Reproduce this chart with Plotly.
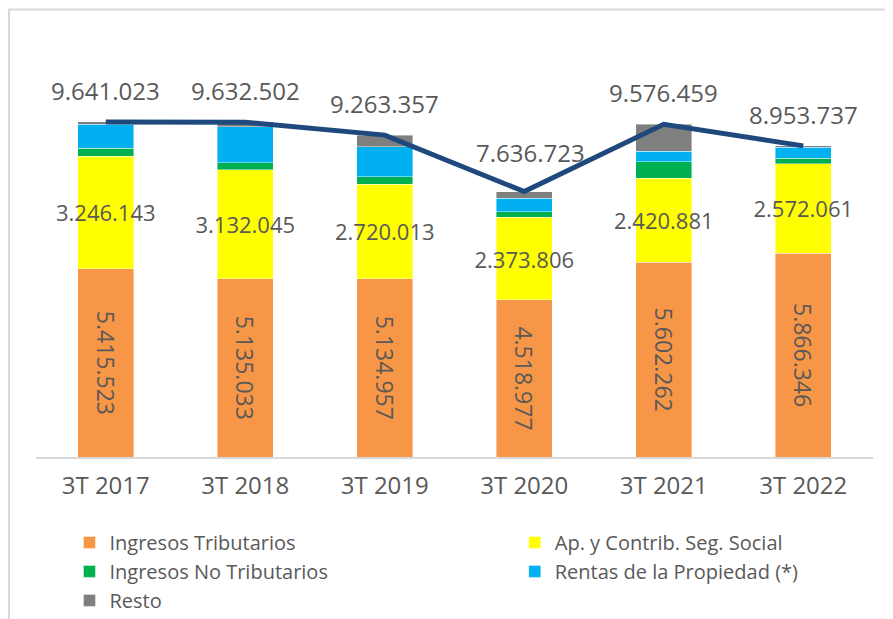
import plotly.graph_objects as go

categories = ["3T 2017", "3T 2018", "3T 2019", "3T 2020", "3T 2021", "3T 2022"]
ingresos_tributarios = [5415523, 5135033, 5134957, 4518977, 5602262, 5866346]
seg_social = [3246143, 3132045, 2720013, 2373806, 2420881, 2572061]
no_tributarios = [220000, 200000, 213000, 165000, 480000, 153000]
rentas_propiedad = [690000, 1040000, 865000, 385000, 300000, 317000]
resto = [69357, 125424, 330387, 193940, 773316, 45330]
totales = [9641023, 9632502, 9263357, 7636723, 9576459, 8953737]

FONT = "Open Sans"
TXT = "#595959"

fig = go.Figure()

def fmt(v):
    return f"{v:,}".replace(",", ".")

bar_line = dict(color="rgba(255,255,255,0.7)", width=0.6)

fig.add_bar(name="Ingresos Tributarios", x=categories, y=ingresos_tributarios,
            marker=dict(color="#F79646", line=bar_line),
            text=[fmt(v) for v in ingresos_tributarios], textposition="inside",
            insidetextanchor="middle", textangle=90, constraintext="none",
            insidetextfont=dict(family=FONT, size=23, color=TXT),
            legend="legend")
fig.add_bar(name="Ap. y Contrib. Seg. Social", x=categories, y=seg_social,
            marker=dict(color="#FFFF00", line=bar_line),
            text=[fmt(v) for v in seg_social], textposition="inside",
            insidetextanchor="middle", textangle=0, constraintext="none",
            insidetextfont=dict(family=FONT, size=22, color=TXT),
            legend="legend2")
fig.add_bar(name="Ingresos No Tributarios", x=categories, y=no_tributarios,
            marker=dict(color="#00B050", line=bar_line), legend="legend")
fig.add_bar(name="Rentas de la Propiedad (*)", x=categories, y=rentas_propiedad,
            marker=dict(color="#00B0F0", line=bar_line), legend="legend2")
fig.add_bar(name="Resto", x=categories, y=resto,
            marker=dict(color="#7F7F7F", line=bar_line), legend="legend")

fig.add_scatter(x=categories, y=totales, mode="lines",
                line=dict(color="#1F497D", width=5), showlegend=False,
                name="Total")

yshifts = [13, 13, 13, 21, 13, 13]
xshifts = [0, 0, 0, 6, 0, 0]
for c, v, ys, xs in zip(categories, totales, yshifts, xshifts):
    fig.add_annotation(x=c, y=v, text=fmt(v), showarrow=False,
                       yanchor="bottom", yshift=ys, xshift=xs,
                       font=dict(family=FONT, size=24, color=TXT))

# chart frame
fig.add_shape(type="rect", xref="paper", yref="paper",
              x0=-0.0323, x1=1.05, y0=-0.45, y1=1.0731,
              line=dict(color="#D9D9D9", width=2), layer="below")

legend_common = dict(orientation="v", yanchor="top", xanchor="left",
                     font=dict(family=FONT, size=20, color=TXT),
                     bgcolor="rgba(0,0,0,0)", traceorder="normal",
                     itemclick=False, itemdoubleclick=False)

fig.update_layout(
    width=885, height=611,
    margin=dict(l=28, r=20, t=32, b=162, autoexpand=False),
    paper_bgcolor="white", plot_bgcolor="white",
    barmode="stack", bargap=0.6,
    separators=",.",
    font=dict(family=FONT, color=TXT),
    showlegend=True,
    legend=dict(x=0.04, y=-0.158, **legend_common),
    legend2=dict(x=0.572, y=-0.158, **legend_common),
    xaxis=dict(showline=True, linecolor="#D9D9D9", linewidth=1.5,
               ticks="", showgrid=False, ticklabelstandoff=6,
               automargin=False,
               tickfont=dict(family=FONT, size=24, color=TXT)),
    yaxis=dict(visible=False, range=[0, 12000000], showgrid=False,
               automargin=False),
)

fig.write_html("out.html")
